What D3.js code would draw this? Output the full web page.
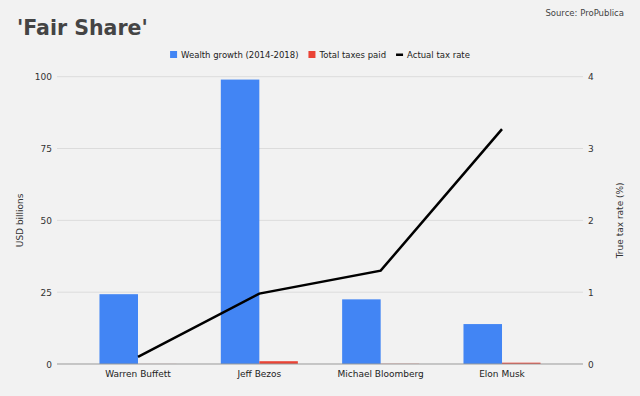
<!DOCTYPE html>
<html>
<head>
<meta charset="utf-8">
<script src="https://cdn.jsdelivr.net/npm/d3@7"></script>
<style>
  body { margin: 0; background: #f2f2f2; }
  svg { display: block; font-family: "DejaVu Sans", Verdana, sans-serif; }
</style>
</head>
<body>
<svg width="640" height="396"></svg>
<script>
const names = ["Warren Buffett", "Jeff Bezos", "Michael Bloomberg", "Elon Musk"];
const wealthGrowth = [24.3, 99.0, 22.5, 13.9];
const taxesPaid = [0.02, 0.97, 0.07, 0.46];
const taxRate = [0.10, 0.98, 1.30, 3.27];
const leftTicks = [0, 25, 50, 75, 100];
const rightTicks = [0, 1, 2, 3, 4];
const seriesNames = ["Wealth growth (2014-2018)", "Total taxes paid", "Actual tax rate"];
const colors = ["#4285f4", "#ea4335", "#000000"];

const svg = d3.select("svg");
const plotLeft = 57, plotRight = 583, plotTop = 76.7, plotBottom = 364;

const x0 = d3.scaleBand().domain(names).range([plotLeft, plotRight])
  .paddingInner(0.365).paddingOuter(0.35);
const x1 = d3.scaleBand().domain([0, 1]).range([0, x0.bandwidth()]);
const yL = d3.scaleLinear().domain([0, 100]).range([plotBottom, plotTop]);
const yR = d3.scaleLinear().domain([0, 4]).range([plotBottom, plotTop]);

// title & source
svg.append("text").attr("x", 17).attr("y", 35)
  .attr("font-size", 20.5).attr("font-weight", "bold").attr("fill", "#444")
  .text("'Fair Share'");
svg.append("text").attr("x", 624).attr("y", 16).attr("text-anchor", "end")
  .attr("font-size", 8.5).attr("fill", "#444").text("Source: ProPublica");

// gridlines
svg.append("g").selectAll("line").data(leftTicks.slice(1)).join("line")
  .attr("x1", plotLeft).attr("x2", plotRight)
  .attr("y1", d => yL(d)).attr("y2", d => yL(d))
  .attr("stroke", "#dcdcdc");

// axis labels
svg.append("g").selectAll("text").data(leftTicks).join("text")
  .attr("x", 52).attr("y", d => yL(d) + 3.5).attr("text-anchor", "end")
  .attr("font-size", 9).attr("fill", "#333").text(d => d);
svg.append("g").selectAll("text").data(rightTicks).join("text")
  .attr("x", 588).attr("y", d => yR(d) + 3.5)
  .attr("font-size", 9).attr("fill", "#333").text(d => d);

svg.append("text").attr("transform", `translate(23,${(plotTop + plotBottom) / 2}) rotate(-90)`)
  .attr("text-anchor", "middle").attr("font-size", 9).attr("fill", "#333")
  .text("USD billions");
svg.append("text").attr("transform", `translate(623,${(plotTop + plotBottom) / 2}) rotate(-90)`)
  .attr("text-anchor", "middle").attr("font-size", 9).attr("fill", "#333")
  .text("True tax rate (%)");

// bars
const bars = svg.append("g");
[wealthGrowth, taxesPaid].forEach((vals, s) => {
  bars.selectAll(".s" + s).data(names).join("rect")
    .attr("class", "s" + s)
    .attr("x", d => x0(d) + x1(s))
    .attr("width", x1.bandwidth())
    .attr("y", (d, i) => yL(vals[i]))
    .attr("height", (d, i) => plotBottom - yL(vals[i]))
    .attr("fill", colors[s]);
});

// baseline
svg.append("line").attr("x1", plotLeft).attr("x2", plotRight)
  .attr("y1", plotBottom).attr("y2", plotBottom).attr("stroke", "#999");

// tax rate line
const line = d3.line()
  .x((d, i) => x0(names[i]) + x0.bandwidth() / 2)
  .y(d => yR(d));
svg.append("path").datum(taxRate).attr("d", line)
  .attr("fill", "none").attr("stroke", colors[2]).attr("stroke-width", 2.5);

// category labels
svg.append("g").selectAll("text").data(names).join("text")
  .attr("x", d => x0(d) + x0.bandwidth() / 2).attr("y", 377)
  .attr("text-anchor", "middle").attr("font-size", 9).attr("fill", "#222")
  .text(d => d);

// legend, laid out from measured text widths and centred
const leg = svg.append("g").attr("font-size", 8.5).attr("fill", "#222");
let cx = 0;
seriesNames.forEach((n, i) => {
  const item = leg.append("g").attr("transform", `translate(${cx},0)`);
  if (i < 2) {
    item.append("rect").attr("y", 51).attr("width", 7).attr("height", 7).attr("fill", colors[i]);
  } else {
    item.append("rect").attr("y", 53.5).attr("width", 7).attr("height", 2.5).attr("fill", colors[i]);
  }
  const t = item.append("text").attr("x", 11).attr("y", 58).text(n);
  cx += 11 + t.node().getComputedTextLength() + 10;
});
const legW = cx - 10;
leg.attr("transform", `translate(${320 - legW / 2},0)`);
</script>
</body>
</html>
